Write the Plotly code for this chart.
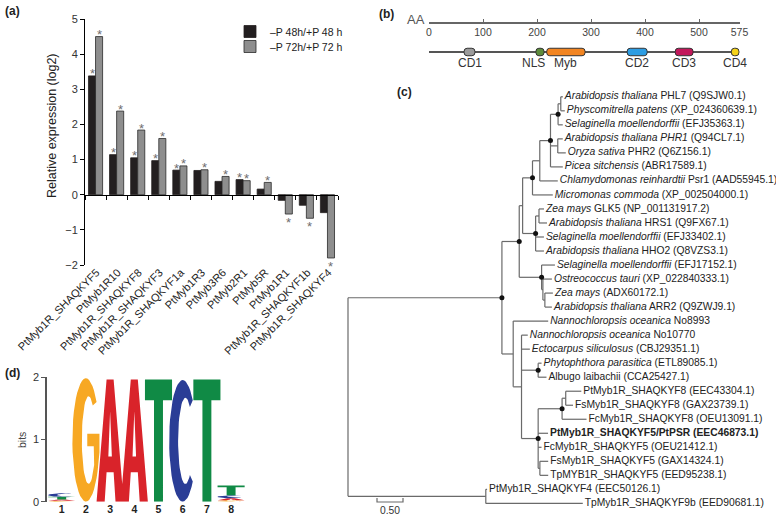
import math
import plotly.graph_objects as go

W, H = 776, 523
FONT = "Liberation Sans, Arial, sans-serif"

# ---------------- (a) expression data ----------------
GENES = ["PtMyb1R_SHAQKYF5", "PtMyb1R10", "PtMyb1R_SHAQKYF8", "PtMyb1R_SHAQKYF3",
         "PtMyb1R_SHAQKYF1a", "PtMyb1R3", "PtMyb3R6", "PtMyb2R1", "PtMyb5R",
         "PtMyb1R1", "PtMyb1R_SHAQKYF1b", "PtMyb1R_SHAQKYF4"]
EXPR_48 = [3.38, 1.14, 1.05, 0.97, 0.70, 0.69, 0.38, 0.43, 0.16, -0.16, -0.30, -0.51]
EXPR_72 = [4.50, 2.38, 1.84, 1.60, 0.82, 0.71, 0.52, 0.40, 0.35, -0.55, -0.67, -1.80]
SIG_48 = [1, 1, 1, 1, 1, 0, 0, 1, 0, 0, 0, 0]
SIG_72 = [1, 1, 1, 1, 1, 1, 1, 1, 1, 1, 1, 1]
SERIES = ["\u2013P 48h/+P 48 h", "\u2013P 72h/+P 72 h"]
Y_TICKS_A = [-2, -1, 0, 1, 2, 3, 4, 5]

# ---------------- (b) protein domains ----------------
PROTEIN_LEN = 575
RULER_TICKS = [0, 100, 200, 300, 400, 500, 575]
DOMAIN_NAMES = ["CD1", "NLS", "Myb", "CD2", "CD3", "CD4"]
DOMAIN_START = [65, 198, 218, 367, 456, 560]
DOMAIN_END = [85, 213, 289, 404, 489, 574]

# ---------------- (c) phylogenetic tree ----------------
# leaves are indices into LEAF_LABELS; internal nodes labelled '*' carry a support dot
NEWICK = (
    "((((((((("
    "0:0.04,1:0.077):0.052,2:0.09)*:0.146,(3:0.096,4:0.154):0.14,5:0.237)*:0.206,"
    "6:0.346):0.14,7:0.39)*:0.19,((8:0.096,9:0.154):0.065,10:0.16,11:0.16)*:0.25):0.065,"
    "(12:0.256,(13:0.173,(14:0.154,15:0.135):0.038):0.025)*:0.43)*:0.333,"
    "(16:0.673,(17:0.12,18:0.16,(19:0.065,20:0.16)*:0.32,"
    "(((21:0.30,22:0.14):0.07,23:0.47)*:0.46,24:0.19,25:0.065,(26:0.16,27:0.16):0.033)*:0.32"
    "):0.16):0.217)*:2.96,(28:0.025,29:1.865):2.65)"
)
LEAF_LABELS = [
    "<i>Arabidopsis thaliana</i> PHL7 (Q9SJW0.1)",
    "<i>Physcomitrella patens</i> (XP_024360639.1)",
    "<i>Selaginella moellendorffii</i> (EFJ35363.1)",
    "<i>Arabidopsis thaliana PHR1</i> (Q94CL7.1)",
    "<i>Oryza sativa</i> PHR2 (Q6Z156.1)",
    "<i>Picea sitchensis</i> (ABR17589.1)",
    "<i>Chlamydomonas reinhardtii</i> Psr1 (AAD55945.1)",
    "<i>Micromonas commoda</i> (XP_002504000.1)",
    "<i>Zea mays</i> GLK5 (NP_001131917.2)",
    "<i>Arabidopsis thaliana</i> HRS1 (Q9FX67.1)",
    "<i>Selaginella moellendorffii</i> (EFJ33402.1)",
    "<i>Arabidopsis thaliana</i> HHO2 (Q8VZS3.1)",
    "<i>Selaginella moellendorffii</i> (EFJ17152.1)",
    "<i>Ostreococcus tauri</i> (XP_022840333.1)",
    "<i>Zea mays</i> (ADX60172.1)",
    "<i>Arabidopsis thaliana</i> ARR2 (Q9ZWJ9.1)",
    "<i>Nannochloropsis oceanica</i> No8993",
    "<i>Nannochloropsis oceanica</i> No10770",
    "<i>Ectocarpus siliculosus</i> (CBJ29351.1)",
    "<i>Phytophthora parasitica</i> (ETL89085.1)",
    "Albugo laibachii (CCA25427.1)",
    "PtMyb1R_SHAQKYF8 (EEC43304.1)",
    "FsMyb1R_SHAQKYF8 (GAX23739.1)",
    "FcMyb1R_SHAQKYF8 (OEU13091.1)",
    "<b>PtMyb1R_SHAQKYF5/PtPSR (EEC46873.1)</b>",
    "FcMyb1R_SHAQKYF5 (OEU21412.1)",
    "FsMyb1R_SHAQKYF5 (GAX14324.1)",
    "TpMYB1R_SHAQKYF5 (EED95238.1)",
    "PtMyb1R_SHAQKYF4 (EEC50126.1)",
    "TpMyb1R_SHAQKYF9b (EED90681.1)",
]
SCALE_BAR = 0.50

# ---------------- (d) sequence logo ----------------
LOGO_POS = [1, 2, 3, 4, 5, 6, 7, 8]
BITS_A = [0.020, 0.0, 1.96, 1.96, 0.0, 0.0, 0.0, 0.030]
BITS_C = [0.055, 0.0, 0.0, 0.0, 0.0, 1.95, 0.0, 0.045]
BITS_G = [0.015, 1.98, 0.0, 0.0, 0.0, 0.0, 0.0, 0.025]
BITS_T = [0.045, 0.0, 0.0, 0.0, 1.96, 0.0, 1.96, 0.160]

# ================= helpers =================
def px(x):
    return x / W


def py(y):
    return 1 - y / H


def rng(p0, p1, origin, per_unit):
    return [(p0 - origin) / per_unit, (p1 - origin) / per_unit]


fig = go.Figure()
annotations = []

# ================= panel (a) =================
A_LEFT, A_RIGHT, A_TOP, A_BOT = 85, 338, 19, 265
BARGAP = 0.33
zero_px = A_BOT - (0 - (-2)) / 7 * (A_BOT - A_TOP)
fig.add_trace(go.Bar(
    x=GENES, y=EXPR_48, name=SERIES[0], offsetgroup="a1", legend="legend",
    marker=dict(color="#231f20", line=dict(color="#231f20", width=0.8)),
    xaxis="x", yaxis="y"))
fig.add_trace(go.Bar(
    x=GENES, y=EXPR_72, name=SERIES[1], offsetgroup="a2", legend="legend2",
    marker=dict(color="#8e8e8e", line=dict(color="#2a2a2a", width=0.8)),
    xaxis="x", yaxis="y"))
fig.add_trace(go.Scatter(x=GENES, y=EXPR_48, mode="none", xaxis="x2", yaxis="y",
                         showlegend=False, hoverinfo="skip"))
half = (1 - BARGAP) / 4
for series, sig, sgn in ((EXPR_48, SIG_48, -1), (EXPR_72, SIG_72, 1)):
    for i, (v, s) in enumerate(zip(series, sig)):
        if s:
            annotations.append(dict(
                text="*", x=i + sgn * half, y=v, xref="x", yref="y", showarrow=False,
                xanchor="center", yanchor="middle", yshift=2 if v > 0 else -8.5,
                font=dict(size=13, color="#6e6e6e", family=FONT)))

# ================= panel (b) =================
DOM_COLORS = ["#9b9b9b", "#5d8c3c", "#f28522", "#2d9de3", "#c2185b", "#f5d31a"]
fig.add_trace(go.Bar(
    orientation="h", base=[0], x=[PROTEIN_LEN], y=[0], width=0.08, offsetgroup="b",
    marker=dict(color="#555555", line=dict(width=0)), xaxis="x3", yaxis="y4",
    showlegend=False, hoverinfo="skip"))
fig.add_trace(go.Bar(
    orientation="h", base=DOMAIN_START,
    x=[e - s for s, e in zip(DOMAIN_START, DOMAIN_END)], y=[0] * len(DOMAIN_NAMES),
    width=0.34, offsetgroup="b",
    marker=dict(color=DOM_COLORS, line=dict(color="#333333", width=1), cornerradius=3),
    xaxis="x3", yaxis="y4", showlegend=False, hoverinfo="skip"))

# ================= panel (c) tree =================
def parse_newick(s):
    s = "".join(s.split())
    pos = 0

    def node():
        nonlocal pos
        n = {"children": [], "name": "", "len": 0.0}
        if s[pos] == "(":
            pos += 1
            while True:
                n["children"].append(node())
                if s[pos] == ",":
                    pos += 1
                    continue
                pos += 1  # ')'
                break
        st = pos
        while pos < len(s) and s[pos] not in ":,();":
            pos += 1
        n["name"] = s[st:pos]
        if pos < len(s) and s[pos] == ":":
            pos += 1
            st = pos
            while pos < len(s) and s[pos] not in ",();":
                pos += 1
            n["len"] = float(s[st:pos])
        return n

    return node()


tree = parse_newick(NEWICK)
counter = [0]


def lay(n, x0):
    n["x"] = x0 + n["len"]
    if not n["children"]:
        n["y"] = counter[0]
        counter[0] += 1
    else:
        for c in n["children"]:
            lay(c, n["x"])
        n["y"] = (n["children"][0]["y"] + n["children"][-1]["y"]) / 2


lay(tree, 0.0)
lx, ly, dx, dy, tips = [], [], [], [], []


def walk(n):
    if n["children"]:
        ch = n["children"]
        lx.extend([n["x"], n["x"], None])
        ly.extend([ch[0]["y"], ch[-1]["y"], None])
        for c in ch:
            lx.extend([n["x"], c["x"], None])
            ly.extend([c["y"], c["y"], None])
            walk(c)
        if n["name"] == "*":
            dx.append(n["x"])
            dy.append(n["y"])
    else:
        tips.append((int(n["name"]), n["x"], n["y"]))


walk(tree)
T_X0, T_PPU, T_Y0, T_ROW = 348, 52.0, 96.8, 14.02
LABEL_GAP = 2.0 / T_PPU
fig.add_trace(go.Scatter(x=lx, y=ly, mode="lines", line=dict(color="#6a6a6a", width=1.2),
                         xaxis="x5", yaxis="y5", showlegend=False, hoverinfo="skip"))
fig.add_trace(go.Scatter(x=dx, y=dy, mode="markers", marker=dict(color="#111111", size=5),
                         xaxis="x5", yaxis="y5", showlegend=False, hoverinfo="skip"))
tips.sort()
fig.add_trace(go.Scatter(
    x=[t[1] + LABEL_GAP for t in tips], y=[t[2] for t in tips], mode="text",
    text=[LEAF_LABELS[t[0]] for t in tips], textposition="middle right",
    textfont=dict(size=10.3, color="#222222", family=FONT),
    xaxis="x5", yaxis="y5", showlegend=False, hoverinfo="skip", cliponaxis=False))
# scale bar
sb_x0 = (377 - T_X0) / T_PPU
sb_y = (502 - T_Y0) / T_ROW
sb_tick = 4 / T_ROW
fig.add_trace(go.Scatter(
    x=[sb_x0, sb_x0, sb_x0 + SCALE_BAR, sb_x0 + SCALE_BAR],
    y=[sb_y - sb_tick, sb_y, sb_y, sb_y - sb_tick], mode="lines",
    line=dict(color="#6a6a6a", width=1.2), xaxis="x5", yaxis="y5",
    showlegend=False, hoverinfo="skip"))
fig.add_trace(go.Scatter(
    x=[sb_x0 + SCALE_BAR / 2], y=[sb_y + 9 / T_ROW], mode="text",
    text=["%.2f" % SCALE_BAR], textfont=dict(size=10.3, color="#333333", family=FONT),
    xaxis="x5", yaxis="y5", showlegend=False, hoverinfo="skip", cliponaxis=False))

# ================= panel (d) logo =================
def ell(cx, cy, rx, ry, a0, a1, n=40):
    pts = []
    for i in range(n + 1):
        a = math.radians(a0 + (a1 - a0) * i / n)
        pts.append((cx + rx * math.cos(a), cy + ry * math.sin(a)))
    return pts


GLYPH = {
    "T": [(0, 1), (1, 1), (1, 0.83), (0.665, 0.83), (0.665, 0), (0.335, 0), (0.335, 0.83), (0, 0.83)],
    "A": [(0, 0), (0.37, 1), (0.63, 1), (1, 0), (0.70, 0), (0.63, 0.24), (0.5, 0.24),
          (0.5, 0.37), (0.565, 0.37), (0.5, 0.74), (0.435, 0.37), (0.5, 0.37),
          (0.5, 0.24), (0.37, 0.24), (0.30, 0)],
    "C": ell(0.5, 0.5, 0.5, 0.5, 42, 318) + ell(0.6, 0.5, 0.27, 0.355, 308, 52),
    "G": ell(0.5, 0.5, 0.5, 0.5, 38, 345) + [(1.0, 0.40), (1.0, 0.55), (0.55, 0.55),
                                             (0.55, 0.45), (0.79, 0.45)]
         + ell(0.6, 0.5, 0.25, 0.355, 325, 52),
}
LOGO_COLORS = {"A": "#d9232a", "C": "#2a3d96", "G": "#f7a823", "T": "#108a45"}
LW = 1.12
heights = {"A": BITS_A, "C": BITS_C, "G": BITS_G, "T": BITS_T}
polys = {k: ([], []) for k in GLYPH}
for i, p in enumerate(LOGO_POS):
    stack = sorted(((heights[k][i], k) for k in "ACGT" if heights[k][i] > 0))
    base = 0.0
    for h, k in stack:
        for gx, gy in GLYPH[k]:
            polys[k][0].append(p - LW / 2 + gx * LW)
            polys[k][1].append(base + gy * h)
        polys[k][0].append(None)
        polys[k][1].append(None)
        base += h
for k in "GATC":
    fig.add_trace(go.Scatter(x=polys[k][0], y=polys[k][1], mode="lines", fill="toself",
                             fillcolor=LOGO_COLORS[k], line=dict(width=0, color=LOGO_COLORS[k]),
                             xaxis="x6", yaxis="y6", showlegend=False, hoverinfo="skip"))

# ================= layout =================
D_LEFT, D_RIGHT, D_TOP, D_BOT = 46.7, 250, 377, 501.7
D_P1, D_STEP = 61.7, 24.2

panel_labels = [
    dict(text="<b>(a)</b>", x=px(3), y=py(11)),
    dict(text="<b>(b)</b>", x=px(377), y=py(14)),
    dict(text="<b>(c)</b>", x=px(395), y=py(92)),
    dict(text="<b>(d)</b>", x=px(3), y=py(373)),
]
for a in panel_labels:
    a.update(xref="paper", yref="paper", xanchor="left", yanchor="middle", showarrow=False,
             font=dict(size=12, color="#222222", family=FONT))
annotations += panel_labels
annotations.append(dict(text="Relative expression (log2)", x=px(52), y=py(126), xref="paper",
                        yref="paper", textangle=-90, showarrow=False,
                        xanchor="center", yanchor="middle",
                        font=dict(size=12.5, color="#222222", family=FONT)))
annotations.append(dict(text="AA", x=px(427), y=py(20), xref="paper", yref="paper",
                        xanchor="right", yanchor="middle", showarrow=False,
                        font=dict(size=13, color="#555555", family=FONT)))
annotations.append(dict(text="bits", x=px(22), y=py(440), xref="paper", yref="paper",
                        textangle=-90, showarrow=False, xanchor="center", yanchor="middle",
                        font=dict(size=10.5, color="#444444", family=FONT)))
LABEL_SHIFT = {"NLS": -6}
for nm, s, e in zip(DOMAIN_NAMES, DOMAIN_START, DOMAIN_END):
    annotations.append(dict(text=nm, x=(s + e) / 2, y=-0.5, xref="x3", yref="y4",
                            xshift=LABEL_SHIFT.get(nm, 0), showarrow=False,
                            xanchor="center", yanchor="middle",
                            font=dict(size=12, color="#333333", family=FONT)))

NOAM = dict(automargin=False)
LEG = dict(xanchor="left", yanchor="top", bgcolor="rgba(0,0,0,0)",
           font=dict(size=10.5, color="#222222", family=FONT), itemwidth=30, tracegroupgap=0)
fig.update_layout(
    width=W, height=H, margin=dict(l=0, r=0, t=0, b=0, pad=0, autoexpand=False),
    paper_bgcolor="white", plot_bgcolor="rgba(0,0,0,0)",
    font=dict(family=FONT, size=11, color="#222222"),
    hovermode=False, barmode="group", bargap=BARGAP, bargroupgap=0.0,
    showlegend=True,
    legend=dict(x=px(230), y=py(17), **LEG),
    legend2=dict(x=px(230), y=py(32), **LEG),
    annotations=annotations,
    # panel (a)
    xaxis=dict(domain=[px(A_LEFT), px(A_RIGHT)], anchor="y", type="category",
               categoryarray=GENES, range=[-0.5, len(GENES) - 0.5], tickangle=-45,
               ticks="", showline=False, showgrid=False, zeroline=False,
               ticklabelstandoff=-2, ticklabelshift=1,
               tickfont=dict(size=11, color="#222222"), **NOAM),
    xaxis2=dict(overlaying="x", anchor="free", position=py(zero_px), type="category",
                categoryarray=GENES, range=[-0.5, len(GENES) - 0.5], tickson="boundaries",
                ticks="outside", ticklen=4, tickcolor="#000000", showticklabels=False,
                showline=True, linecolor="#000000", linewidth=1, showgrid=False,
                zeroline=False, **NOAM),
    yaxis=dict(domain=[py(A_BOT), py(A_TOP)], anchor="x", range=[-2, 5],
               tickvals=Y_TICKS_A, ticktext=[("\u2212%d" % -v) if v < 0 else str(v) for v in Y_TICKS_A],
               ticks="outside", ticklen=4, tickcolor="#000000", showline=True,
               linecolor="#000000", linewidth=1, showgrid=False, zeroline=False,
               tickfont=dict(size=11, color="#333333"), **NOAM),
    # panel (b)
    xaxis3=dict(domain=[px(429), px(739.5)], range=[0, PROTEIN_LEN], anchor="free",
                position=py(22), tickvals=RULER_TICKS, ticks="inside", ticklen=3,
                tickcolor="#666666", showline=True, linecolor="#666666", linewidth=1.5,
                showgrid=False, zeroline=False, tickfont=dict(size=10.5, color="#444444"),
                **NOAM),
    yaxis4=dict(domain=[py(74), py(30)], range=[-1, 1], anchor="x3", visible=False, **NOAM),
    # panel (c)
    xaxis5=dict(domain=[0, 1], range=rng(0, W, T_X0, T_PPU), anchor="y5", visible=False,
                **NOAM),
    yaxis5=dict(domain=[0, 1], range=[(H - T_Y0) / T_ROW, (0 - T_Y0) / T_ROW], anchor="x5",
                visible=False, **NOAM),
    # panel (d)
    xaxis6=dict(domain=[px(D_LEFT), px(D_RIGHT)],
                range=[1 + (D_LEFT - D_P1) / D_STEP, 1 + (D_RIGHT - D_P1) / D_STEP],
                anchor="y6", tickvals=LOGO_POS, ticktext=["<b>%d</b>" % p for p in LOGO_POS],
                ticks="", showline=False, showgrid=False, zeroline=False,
                tickfont=dict(size=10.5, color="#222222"), **NOAM),
    yaxis6=dict(domain=[py(D_BOT), py(D_TOP)], range=[0, 2], anchor="x6",
                tickvals=[0, 1, 2], ticks="outside", ticklen=4, tickcolor="#555555",
                showline=True, linecolor="#555555", linewidth=1.5, showgrid=False,
                zeroline=False, tickfont=dict(size=11, color="#333333"), **NOAM),
)

fig.write_html("out.html", config={"displayModeBar": False, "staticPlot": True},
               post_script="document.body.style.margin='0';document.body.style.padding='0';")
